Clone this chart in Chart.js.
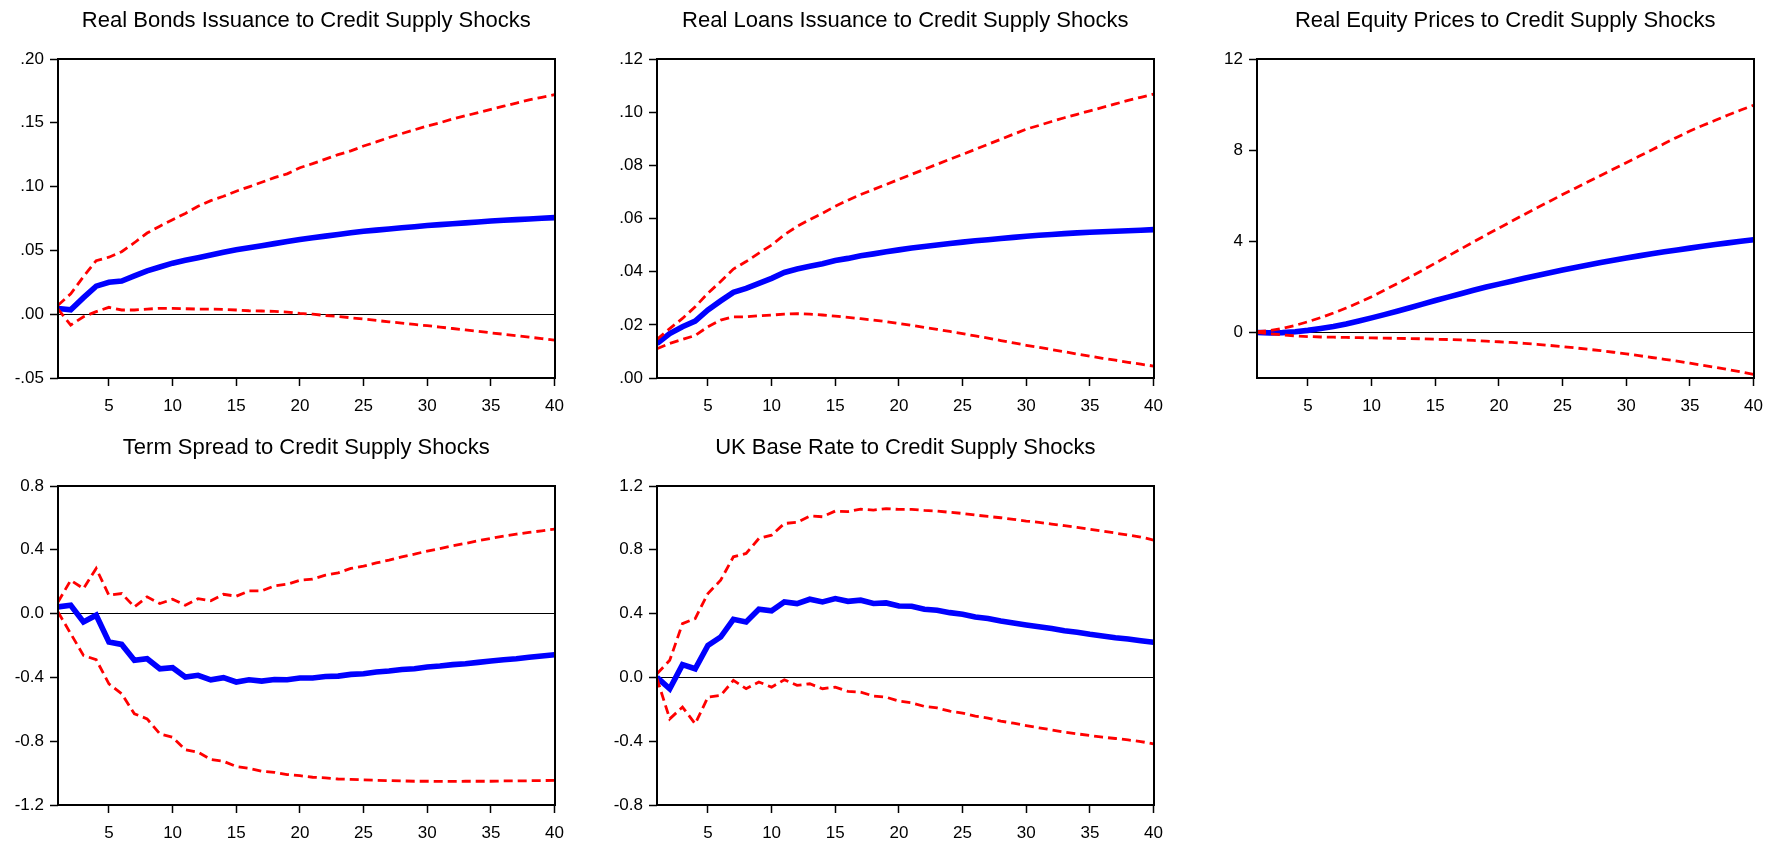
<!DOCTYPE html>
<html>
<head>
<meta charset="utf-8">
<title>Impulse responses to credit supply shocks</title>
<script src="https://cdn.jsdelivr.net/npm/chart.js@4.4.1/dist/chart.umd.min.js"></script>
<style>
  html, body { margin: 0; padding: 0; background: #ffffff; overflow: hidden; }
  #wrap { position: relative; width: 1773px; height: 842px; background: #ffffff; }
  canvas { position: absolute; }
</style>
</head>
<body>
<div id="wrap">
  <canvas id="bonds"  width="574" height="420" style="left:0px;top:0px"></canvas>
  <canvas id="loans"  width="574" height="420" style="left:599px;top:0px"></canvas>
  <canvas id="equity" width="574" height="420" style="left:1199px;top:0px"></canvas>
  <canvas id="spread" width="574" height="420" style="left:0px;top:427px"></canvas>
  <canvas id="base"   width="574" height="420" style="left:599px;top:427px"></canvas>
</div>
<script>
// Horizon (quarters after the shock)
const horizons = [1, 2, 3, 4, 5, 6, 7, 8, 9, 10, 11, 12, 13, 14, 15, 16, 17, 18, 19, 20,
                  21, 22, 23, 24, 25, 26, 27, 28, 29, 30, 31, 32, 33, 34, 35, 36, 37, 38, 39, 40];
const xTickValues = [5, 10, 15, 20, 25, 30, 35, 40];

// Real bonds issuance: response and confidence bands
const bondsMean = [0.0045, 0.0035, 0.013, 0.022, 0.025, 0.026, 0.030, 0.034, 0.037, 0.040,
                   0.0422, 0.0443, 0.0464, 0.0485, 0.0505, 0.0521, 0.0537, 0.0553, 0.0569, 0.0585,
                   0.0599, 0.0612, 0.0625, 0.0638, 0.065, 0.0659, 0.0668, 0.0677, 0.0686, 0.0695,
                   0.0702, 0.0709, 0.0716, 0.0723, 0.073, 0.0736, 0.0741, 0.0746, 0.0752, 0.0757];
const bondsUpper = [0.007, 0.016, 0.0295, 0.042, 0.0447, 0.049, 0.056, 0.0636, 0.069, 0.074,
                    0.079, 0.0846, 0.089, 0.0924, 0.0964, 0.0998, 0.1034, 0.107, 0.110, 0.1148,
                    0.118, 0.1215, 0.125, 0.128, 0.1318, 0.135, 0.1385, 0.1415, 0.1445, 0.1475,
                    0.150, 0.153, 0.1555, 0.158, 0.1606, 0.163, 0.1655, 0.168, 0.170, 0.172];
const bondsLower = [0.004, -0.0085, -0.002, 0.002, 0.0054, 0.0033, 0.0033, 0.004, 0.0046, 0.0046,
                    0.0043, 0.004, 0.004, 0.0038, 0.0033, 0.0027, 0.0025, 0.0022, 0.0017, 0.0006,
                    0.0, -0.001, -0.0017, -0.0028, -0.0038, -0.0049, -0.006, -0.007, -0.008, -0.009,
                    -0.0101, -0.0112, -0.0123, -0.0134, -0.0146, -0.0157, -0.0168, -0.018, -0.0191, -0.0203];
const bondsTickValues = [-0.05, 0, 0.05, 0.10, 0.15, 0.20];
const bondsTickLabels = ['-.05', '.00', '.05', '.10', '.15', '.20'];

// Real loans issuance
const loansMean = [0.013, 0.0167, 0.0193, 0.0214, 0.0256, 0.029, 0.0322, 0.0337, 0.0356, 0.0375,
                   0.0397, 0.041, 0.042, 0.043, 0.0442, 0.045, 0.046, 0.0467, 0.0475, 0.0482,
                   0.0489, 0.0495, 0.050, 0.0506, 0.0511, 0.0516, 0.052, 0.0525, 0.0529, 0.0533,
                   0.0537, 0.054, 0.0543, 0.0546, 0.0548, 0.055, 0.0552, 0.0554, 0.0556, 0.0558];
const loansUpper = [0.0145, 0.0186, 0.0224, 0.0268, 0.0319, 0.0363, 0.041, 0.0438, 0.047, 0.050,
                    0.0539, 0.057, 0.0596, 0.062, 0.0646, 0.0669, 0.069, 0.0709, 0.0728, 0.0747,
                    0.0766, 0.0785, 0.0804, 0.0823, 0.0841, 0.086, 0.0879, 0.0898, 0.0917, 0.0936,
                    0.095, 0.0965, 0.0979, 0.0992, 0.1005, 0.1018, 0.1031, 0.1044, 0.1056, 0.1068];
const loansLower = [0.011, 0.013, 0.0145, 0.016, 0.0193, 0.0218, 0.023, 0.023, 0.0234, 0.0237,
                    0.024, 0.0242, 0.024, 0.0237, 0.0233, 0.0228, 0.0223, 0.0218, 0.0212, 0.0205,
                    0.0198, 0.019, 0.0183, 0.0175, 0.0167, 0.0158, 0.015, 0.0141, 0.0132, 0.0123,
                    0.0115, 0.0107, 0.0099, 0.009, 0.0082, 0.0074, 0.0067, 0.0059, 0.0052, 0.0045];
const loansTickValues = [0, 0.02, 0.04, 0.06, 0.08, 0.10, 0.12];
const loansTickLabels = ['.00', '.02', '.04', '.06', '.08', '.10', '.12'];

// Real equity prices
const equityMean = [0.0, -0.02, -0.01, 0.03, 0.09, 0.17, 0.26, 0.37, 0.5, 0.64,
                    0.78, 0.93, 1.08, 1.24, 1.4, 1.55, 1.7, 1.85, 1.99, 2.12,
                    2.25, 2.38, 2.5, 2.62, 2.74, 2.85, 2.96, 3.07, 3.17, 3.27,
                    3.36, 3.45, 3.54, 3.62, 3.7, 3.78, 3.86, 3.93, 4.0, 4.07];
const equityUpper = [0.03, 0.08, 0.18, 0.31, 0.47, 0.65, 0.85, 1.07, 1.31, 1.57,
                     1.85, 2.14, 2.43, 2.73, 3.04, 3.35, 3.66, 3.97, 4.28, 4.58,
                     4.88, 5.18, 5.47, 5.76, 6.05, 6.33, 6.61, 6.89, 7.17, 7.45,
                     7.73, 8.01, 8.29, 8.57, 8.84, 9.08, 9.31, 9.54, 9.76, 9.97];
const equityLower = [0.0, -0.06, -0.11, -0.15, -0.18, -0.2, -0.21, -0.22, -0.23, -0.24,
                     -0.25, -0.26, -0.27, -0.28, -0.3, -0.31, -0.33, -0.35, -0.38, -0.41,
                     -0.44, -0.48, -0.52, -0.57, -0.62, -0.68, -0.74, -0.8, -0.87, -0.94,
                     -1.02, -1.1, -1.18, -1.26, -1.35, -1.44, -1.53, -1.63, -1.73, -1.84];
const equityTickValues = [0, 4, 8, 12];
const equityTickLabels = ['0', '4', '8', '12'];

// Term spread
const spreadMean = [0.042, 0.052, -0.052, -0.01, -0.178, -0.193, -0.293, -0.283, -0.346, -0.339,
                    -0.398, -0.387, -0.415, -0.402, -0.429, -0.415, -0.423, -0.413, -0.415, -0.404,
                    -0.404, -0.394, -0.392, -0.381, -0.377, -0.366, -0.36, -0.35, -0.346, -0.335,
                    -0.329, -0.32, -0.314, -0.306, -0.297, -0.289, -0.283, -0.274, -0.266, -0.258];
const spreadUpper = [0.073, 0.209, 0.157, 0.283, 0.115, 0.126, 0.042, 0.105, 0.063, 0.09,
                     0.052, 0.094, 0.08, 0.121, 0.109, 0.142, 0.142, 0.174, 0.184, 0.209,
                     0.216, 0.241, 0.255, 0.283, 0.297, 0.318, 0.335, 0.356, 0.373, 0.392,
                     0.408, 0.425, 0.44, 0.457, 0.471, 0.486, 0.498, 0.509, 0.519, 0.53];
const spreadLower = [0.01, -0.126, -0.262, -0.289, -0.44, -0.503, -0.628, -0.66, -0.754, -0.775,
                     -0.854, -0.869, -0.915, -0.926, -0.959, -0.97, -0.988, -0.995, -1.009, -1.016,
                     -1.026, -1.03, -1.037, -1.039, -1.043, -1.045, -1.047, -1.049, -1.051, -1.051,
                     -1.052, -1.052, -1.051, -1.051, -1.051, -1.049, -1.049, -1.048, -1.047, -1.045];
const spreadTickValues = [-1.2, -0.8, -0.4, 0, 0.4, 0.8];
const spreadTickLabels = ['-1.2', '-0.8', '-0.4', '0.0', '0.4', '0.8'];

// UK base rate
const baseMean = [0.0, -0.071, 0.08, 0.054, 0.2, 0.253, 0.364, 0.348, 0.427, 0.417,
                  0.473, 0.463, 0.49, 0.473, 0.494, 0.477, 0.484, 0.463, 0.467, 0.448,
                  0.446, 0.427, 0.421, 0.406, 0.396, 0.379, 0.369, 0.354, 0.341, 0.329,
                  0.318, 0.306, 0.293, 0.283, 0.27, 0.26, 0.249, 0.241, 0.23, 0.22];
const baseUpper = [0.023, 0.107, 0.337, 0.369, 0.526, 0.609, 0.756, 0.777, 0.871, 0.892,
                   0.965, 0.972, 1.012, 1.007, 1.043, 1.039, 1.055, 1.049, 1.058, 1.053,
                   1.053, 1.047, 1.043, 1.035, 1.028, 1.018, 1.009, 1.001, 0.991, 0.98,
                   0.972, 0.961, 0.951, 0.94, 0.928, 0.917, 0.905, 0.892, 0.88, 0.861];
const baseLower = [-0.008, -0.26, -0.186, -0.291, -0.124, -0.113, -0.019, -0.071, -0.029, -0.061,
                   -0.015, -0.05, -0.04, -0.071, -0.061, -0.088, -0.092, -0.117, -0.124, -0.149,
                   -0.159, -0.182, -0.191, -0.212, -0.224, -0.243, -0.255, -0.274, -0.287, -0.302,
                   -0.316, -0.329, -0.343, -0.354, -0.364, -0.375, -0.383, -0.392, -0.402, -0.417];
const baseTickValues = [-0.8, -0.4, 0, 0.4, 0.8, 1.2];
const baseTickLabels = ['-0.8', '-0.4', '0.0', '0.4', '0.8', '1.2'];

const FONT = "'Liberation Sans', Arial, Helvetica, sans-serif";

// Box drawn around each plotting area
const framePlugin = {
  id: 'frame',
  afterDatasetsDraw(chart) {
    const a = chart.chartArea;
    const ctx = chart.ctx;
    ctx.save();
    ctx.strokeStyle = '#000000';
    ctx.lineWidth = 2;
    ctx.strokeRect(Math.round(a.left), Math.round(a.top),
                   Math.round(a.right) - Math.round(a.left),
                   Math.round(a.bottom) - Math.round(a.top));
    ctx.restore();
  }
};

function toPoints(series) {
  return horizons.map((h, i) => ({ x: h, y: series[i] }));
}

function makePanel(id, title, mean, upper, lower, yMin, yMax, tickValues, tickLabels) {
  const band = {
    borderColor: '#ff0000',
    borderWidth: 2.8,
    borderDash: [9, 5],
    pointRadius: 0,
    tension: 0,
    fill: false
  };
  return new Chart(document.getElementById(id), {
    type: 'line',
    data: {
      datasets: [
        Object.assign({ label: 'upper', data: toPoints(upper) }, band),
        Object.assign({ label: 'lower', data: toPoints(lower) }, band),
        {
          label: 'response',
          data: toPoints(mean),
          borderColor: '#0000ff',
          borderWidth: 5.6,
          pointRadius: 0,
          tension: 0,
          fill: false
        }
      ]
    },
    options: {
      responsive: false,
      animation: false,
      devicePixelRatio: 1,
      layout: { padding: { left: 0, right: 17, top: 0, bottom: 0 } },
      plugins: {
        legend: { display: false },
        tooltip: { enabled: false },
        title: {
          display: true,
          text: title,
          color: '#000000',
          fullSize: false,
          font: { family: FONT, size: 22, weight: 'normal', lineHeight: 1.2 },
          padding: { top: 8, bottom: 24.6 }
        }
      },
      scales: {
        x: {
          type: 'linear',
          min: 1,
          max: 40,
          afterBuildTicks: (axis) => { axis.ticks = xTickValues.map(v => ({ value: v })); },
          afterFit: (axis) => { axis.height = 42; },
          border: { display: false },
          grid: {
            display: true,
            drawOnChartArea: false,
            drawTicks: true,
            tickLength: 8,
            tickWidth: 1.5,
            tickColor: '#000000',
            color: '#000000'
          },
          ticks: {
            autoSkip: false,
            maxRotation: 0,
            padding: 10,
            color: '#000000',
            font: { family: FONT, size: 17 },
            callback: (value) => String(value)
          }
        },
        y: {
          type: 'linear',
          min: yMin,
          max: yMax,
          afterBuildTicks: (axis) => { axis.ticks = tickValues.map(v => ({ value: v })); },
          afterFit: (axis) => { axis.width = 58; },
          border: { display: false },
          grid: {
            display: true,
            drawOnChartArea: true,
            drawTicks: true,
            tickLength: 8,
            tickWidth: 1.5,
            tickColor: '#000000',
            lineWidth: 1,
            color: (ctx) => (ctx.tick && ctx.tick.value === 0) ? '#000000' : 'rgba(0,0,0,0)'
          },
          ticks: {
            autoSkip: false,
            padding: 6,
            color: '#000000',
            font: { family: FONT, size: 17 },
            callback: (value) => tickLabels[tickValues.indexOf(value)]
          }
        }
      }
    },
    plugins: [framePlugin]
  });
}

makePanel('bonds', 'Real Bonds Issuance to Credit Supply Shocks',
          bondsMean, bondsUpper, bondsLower, -0.05, 0.20, bondsTickValues, bondsTickLabels);
makePanel('loans', 'Real Loans Issuance to Credit Supply Shocks',
          loansMean, loansUpper, loansLower, 0, 0.12, loansTickValues, loansTickLabels);
makePanel('equity', 'Real Equity Prices to Credit Supply Shocks',
          equityMean, equityUpper, equityLower, -2, 12, equityTickValues, equityTickLabels);
makePanel('spread', 'Term Spread to Credit Supply Shocks',
          spreadMean, spreadUpper, spreadLower, -1.2, 0.8, spreadTickValues, spreadTickLabels);
makePanel('base', 'UK Base Rate to Credit Supply Shocks',
          baseMean, baseUpper, baseLower, -0.8, 1.2, baseTickValues, baseTickLabels);
</script>
</body>
</html>
